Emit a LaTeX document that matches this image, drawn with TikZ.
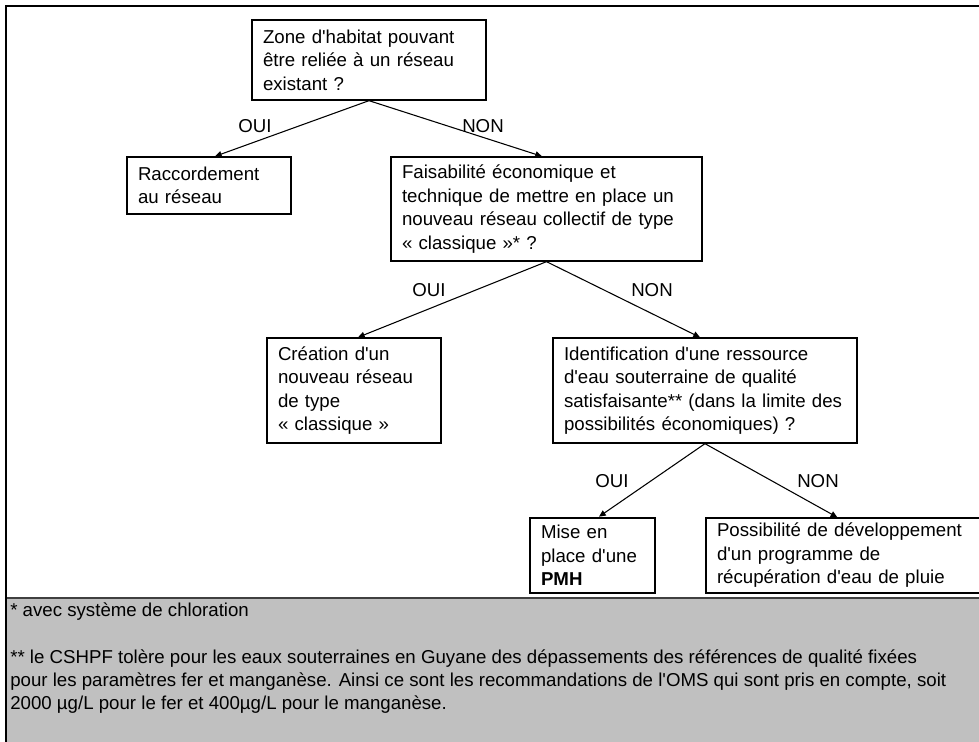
\documentclass[tikz,border=0pt]{standalone}
\usepackage{fontspec}
\setmainfont{Liberation Sans}[Ligatures=TeXOff]
\usetikzlibrary{arrows.meta}
\definecolor{piedgris}{RGB}{192,192,192}
\definecolor{traitgris}{RGB}{64,64,64}
\tikzset{
	boite/.style={draw, line width=1pt, align=left, inner xsep=8.25pt, inner ysep=2pt, font=\fontsize{14}{17.6}\selectfont},
	fleche/.style={-{Triangle[length=5pt,width=4.5pt]}, line width=.8pt},
	choix/.style={font=\fontsize{14}{17.6}\selectfont},
	note/.style={anchor=west, inner sep=0pt, font=\fontsize{14}{17.6}\selectfont}
}
\begin{document}
\begin{tikzpicture}[x=.75pt, y=-.75pt]
	\useasboundingbox (0,0) rectangle (979,742);
	\clip (0,0) rectangle (979,742);
	% pied de page
	\fill[piedgris] (6,598) rectangle (990,750);
	\draw[traitgris, line width=1.6pt] (6,598) -- (990,598);
	\draw[line width=2.2pt] (990,6) -- (6,6) -- (6,750);
	% boites
	\node[boite, text width=159pt, minimum height=60pt] (zone) at (369,60) {Zone d'habitat pouvant\\être reliée à un réseau\\existant ?};
	\node[boite, text width=106.5pt, minimum height=42.75pt] (raccord) at (209,185.5) {Raccordement\\au réseau};
	\node[boite, text width=216.75pt, minimum height=78pt] (faisab) at (546.5,209) {Faisabilité économique et\\technique de mettre en place un\\nouveau réseau collectif de type\\« classique »* ?};
	\node[boite, text width=114pt, minimum height=78.75pt] (creation) at (354,390.5) {Création d'un\\nouveau réseau\\de type\\« classique »};
	\node[boite, text width=211.5pt, minimum height=78.75pt] (ident) at (705,390.5) {Identification d'une ressource\\d'eau souterraine de qualité\\satisfaisante** (dans la limite des\\possibilités économiques) ?};
	\node[boite, line width=2pt, text width=77.25pt, minimum height=56.25pt] (mise) at (592.5,555.5) {Mise en\\place d'une\\\textbf{PMH}};
	\node[boite, text width=204pt, minimum height=56.25pt] (possib) at (853,555.5) {Possibilité de développement\\d'un programme de\\récupération d'eau de pluie};
	% fleches
	\draw[fleche] (zone.south) -- ([xshift=4.5pt]raccord.north);
	\draw[fleche] (zone.south) -- ([xshift=-3.4pt]faisab.north);
	\draw[fleche] (faisab.south) -- ([xshift=3pt]creation.north);
	\draw[fleche] (faisab.south) -- ([xshift=-3.75pt]ident.north);
	\draw[fleche] (ident.south) -- ([xshift=4.9pt]mise.north);
	\draw[fleche] (ident.south) -- ([xshift=99pt]possib.north west);
	% etiquettes
	\node[choix] (oui1) at (255,126) {OUI};
	\node[choix] (non1) at (483,126) {NON};
	\node[choix] (oui2) at (429,290) {OUI};
	\node[choix] (non2) at (652,290) {NON};
	\node[choix] (oui3) at (612,481) {OUI};
	\node[choix] (non3) at (818,481) {NON};
	% notes
	\node[note] (note1) at (10,612) {* avec système de chloration};
	\node[note] (note2) at (10,659) {** le CSHPF tolère pour les eaux souterraines en Guyane des dépassements des références de qualité fixées};
	\node[note] (note3) at (10,682) {pour les paramètres fer et manganèse. Ainsi ce sont les recommandations de l'OMS qui sont pris en compte, soit};
	\node[note] (note4) at (10,705) {2000 µg/L pour le fer et 400µg/L pour le manganèse.};
\end{tikzpicture}
\end{document}
